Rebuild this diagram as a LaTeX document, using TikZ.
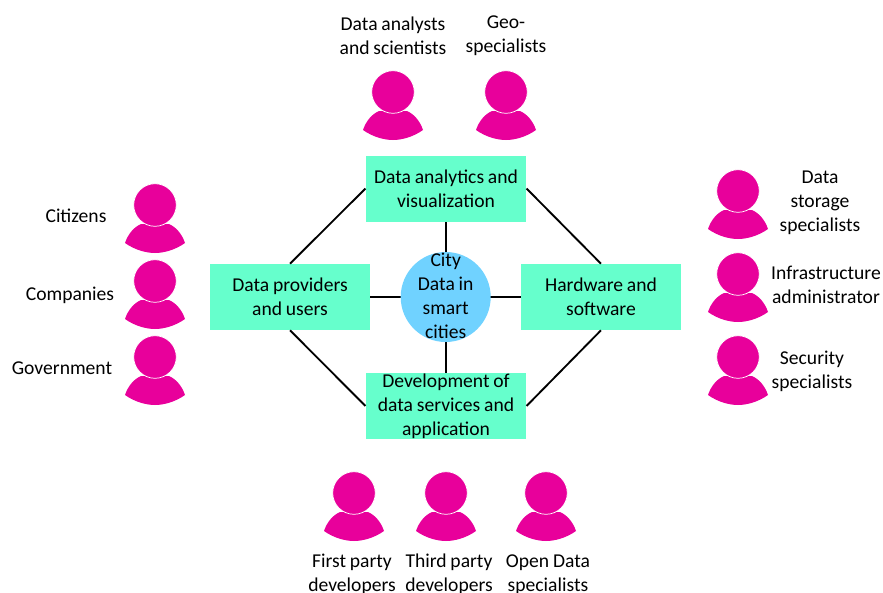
\documentclass[tikz,border=0pt]{standalone}
\usepackage{fontspec}
\setmainfont[WordSpace=0.85]{Carlito}
\definecolor{boxc}{RGB}{102,255,204}
\definecolor{hubc}{RGB}{112,210,255}
\definecolor{pinkc}{RGB}{232,0,155}
\tikzset{
 box/.style={draw=none,fill=boxc,minimum width=120.4pt,minimum height=49.5pt,text width=118pt,align=flush center,inner sep=0pt},
 hub/.style={circle,fill=hubc,minimum size=67.5pt,inner sep=0pt},
 lab/.style={align=center,font=\fontsize{14.7pt}{18pt}\selectfont},
 link/.style={draw=black,line width=1.4pt},
 pers/.pic={
   \fill[pinkc] (-30,38) .. controls (-27,29) and (-21,22) .. (-14,19) -- (14,19) .. controls (21,22) and (27,29) .. (30,38) .. controls (20,45) and (9,48) .. (0,48) .. controls (-9,48) and (-20,45) .. (-30,38) -- cycle;
   \filldraw[fill=pinkc,draw=white,line width=0.55pt] (0,0) circle[radius=21.3];}
}
\begin{document}
\begin{tikzpicture}[x=0.75pt,y=-0.75pt]
\useasboundingbox (0,0) rectangle (883,593);
\draw[link] (446,297) -- (446,188.5);
\draw[link] (446,297) -- (446,406);
\draw[link] (446,297) -- (290,297);
\draw[link] (446,297) -- (601,297);
\node[box,lab,align=flush center] (top) at (446,188.5) {Data analytics and\\visualization};
\node[box,lab,align=flush center] (left) at (290,297) {Data providers\\and users};
\node[box,lab,align=flush center] (right) at (601,297) {Hardware and\\software};
\node[box,lab,align=flush center] (bot) at (446,406) {Development of\\data services and\\application};
\node[hub,lab] (hub) at (445.7,297) {\raisebox{-8pt}{\smash{\begin{tabular}[c]{@{}c@{}}City\\Data in\\smart\\cities\end{tabular}}}};
\draw[link] (top.west) -- (left.north);
\draw[link] (top.east) -- (right.north);
\draw[link] (bot.west) -- (left.south);
\draw[link] (bot.east) -- (right.south);
\foreach \x/\y in {393/92,506/92,155/205,155/281,155/357,738/191,738/274,738/357,354/493,446/493,546/493}{\pic at (\x,\y) {pers};}
\node[lab] (a1) at (393,35.5) {Data analysts\\and scientists};
\node[lab] (a2) at (506,36) {Geo-\\specialists};
\node[lab] (b1) at (76,216) {Citizens};
\node[lab] (b2) at (70,295) {Companies};
\node[lab] (b3) at (62,368) {Government};
\node[lab] (c1) at (820,203) {Data\\storage\\specialists};
\node[lab] (c2) at (826,285) {Infrastructure\\administrator};
\node[lab] (c3) at (812,371) {Security\\specialists};
\node[lab] (d1) at (352,574.5) {First party\\developers};
\node[lab] (d2) at (449,574.5) {Third party\\developers};
\node[lab] (d3) at (548,574.5) {Open Data\\specialists};
\end{tikzpicture}
\end{document}
